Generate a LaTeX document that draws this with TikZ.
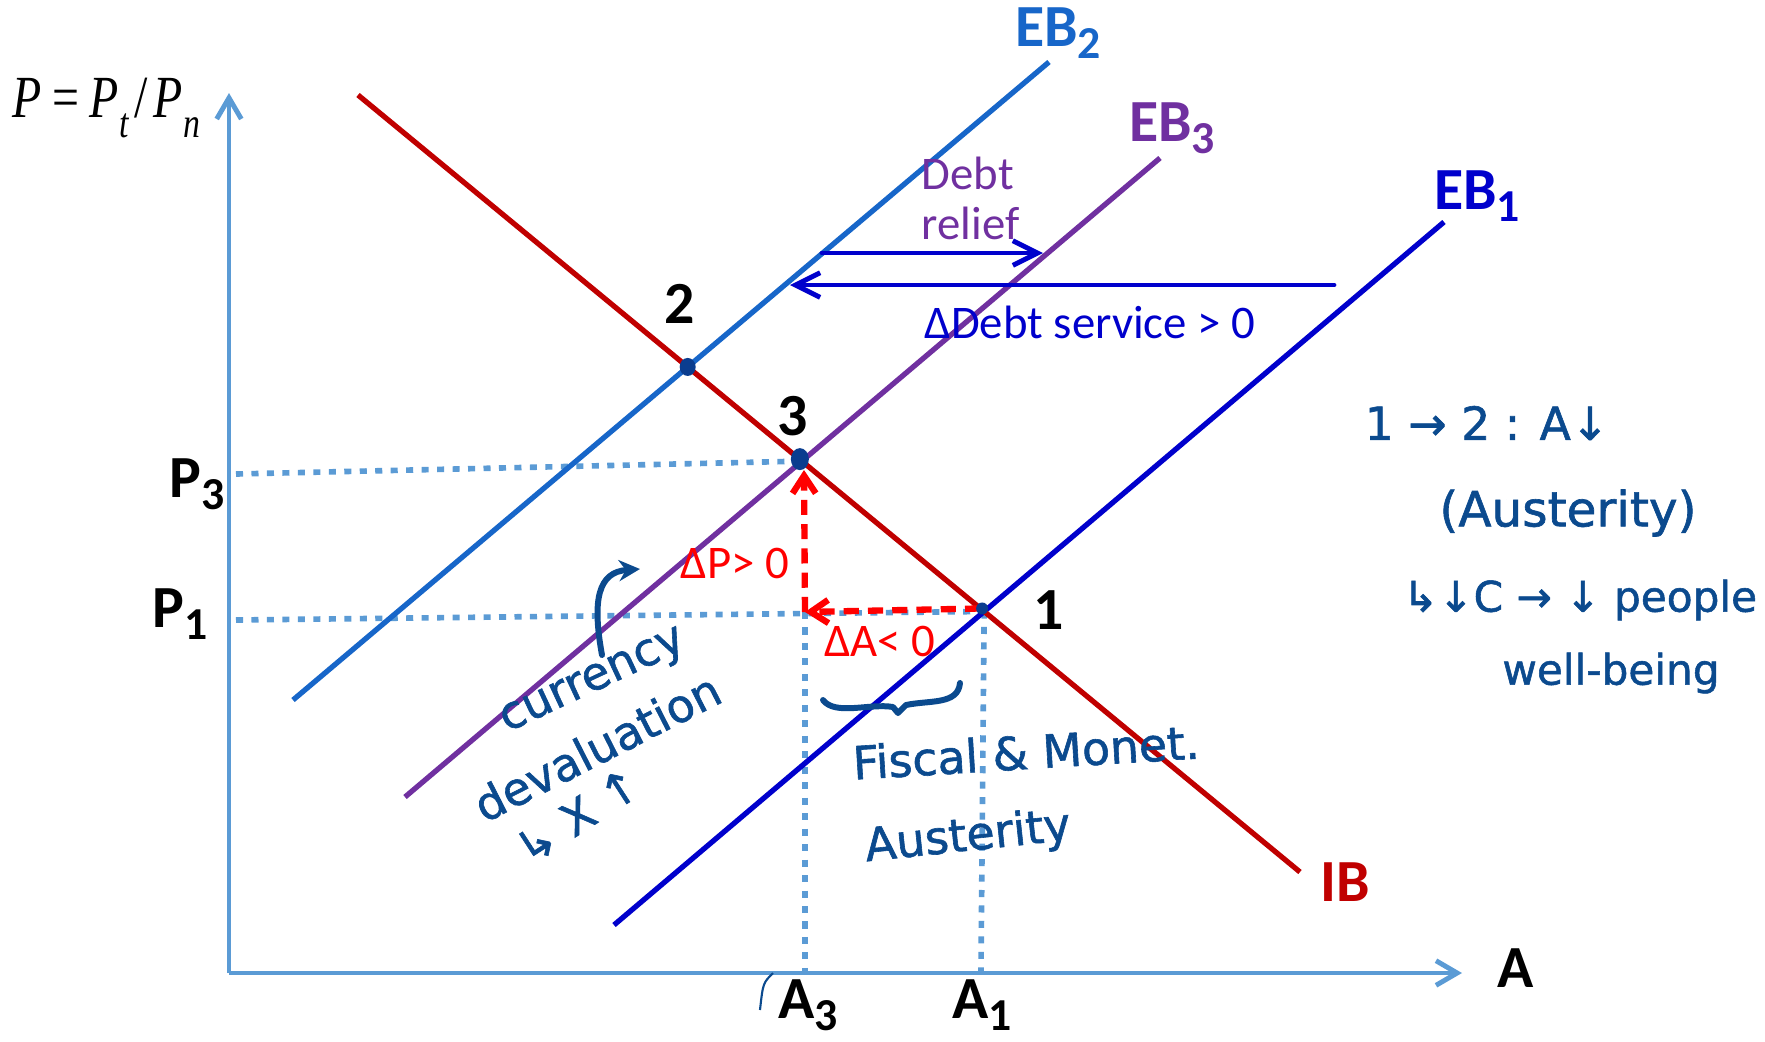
\documentclass[tikz,border=0pt]{standalone}
\usepackage{fontspec}
\usepackage{graphicx}
\setmainfont{Liberation Serif}
\setsansfont{Carlito}
\newfontfamily\hwfont[FakeBold=1.3]{DejaVu Sans}
\usetikzlibrary{arrows.meta,calc}
\definecolor{axisblue}{HTML}{5B9BD5}
\definecolor{ebtwo}{HTML}{1766C9}
\definecolor{ebthree}{HTML}{7030A0}
\definecolor{ebone}{HTML}{0000CC}
\definecolor{ibred}{HTML}{C00000}
\definecolor{hw}{HTML}{0B4A8E}
\definecolor{dotnavy}{HTML}{0A3D8F}
\newcommand\lsub[1]{\raisebox{-0.4ex}{\fontsize{13}{13}\selectfont #1}}
\newcommand\msub[1]{\raisebox{-0.75ex}{\fontsize{12}{12}\selectfont\textit{#1}}}
\begin{document}
\begin{tikzpicture}[x=0.01cm,y=-0.01cm,
  axisline/.style={draw=axisblue, line width=1.2pt, -{Straight Barb[length=6pt,width=7pt,line width=1.4pt]}},
  curveline/.style={line width=1.5pt},
  guide/.style={draw=axisblue, line width=1.6pt, dash pattern=on 2pt off 2.4pt},
  shiftarrow/.style={draw=ebone, line width=1.4pt, line cap=round, -{Straight Barb[length=7pt,width=7pt,line width=1.4pt]}},
  redarrow/.style={draw=red, line width=1.8pt, dash pattern=on 4.3pt off 2.6pt, -{Straight Barb[length=5pt,width=6.6pt,line width=1.8pt]}},
  biglabel/.style={font=\sffamily\bfseries\fontsize{17}{17}\selectfont, inner sep=0pt},
  smalllabel/.style={font=\sffamily\fontsize{13.3}{14.2}\selectfont, inner sep=0pt},
  hand/.style={font=\hwfont\fontsize{13}{13}\selectfont, text=hw, inner sep=0pt},
  handline/.style={draw=hw, line width=1.7pt, line cap=round, line join=round},
  eqdot/.style={fill=dotnavy, draw=none}
]
\useasboundingbox (0,0) rectangle (1765,1041);

% axes
\coordinate (O) at (229,973);
\coordinate (Ytop) at (229,93);
\coordinate (Xend) at (1462,973);
\draw[axisline] (O) -- (Ytop);
\draw[axisline] (O) -- (Xend);

% curve end points
\coordinate (IBa) at (358,95);   \coordinate (IBb) at (1300,872);
\coordinate (EB2a) at (293,700); \coordinate (EB2b) at (1049,62);
\coordinate (EB3a) at (405,797); \coordinate (EB3b) at (1160,158);
\coordinate (EB1a) at (614,925); \coordinate (EB1b) at (1444,222);

\coordinate (p2) at (intersection of IBa--IBb and EB2a--EB2b);
\coordinate (p3) at (intersection of IBa--IBb and EB3a--EB3b);
\coordinate (p1) at (intersection of IBa--IBb and EB1a--EB1b);

% guide lines
\coordinate (P3s) at (236,474);
\coordinate (P1s) at (236,620);
\coordinate (C) at (805,612);
\coordinate (A3b) at (805,971);
\coordinate (A1b) at (981,971);
\draw[guide] (P3s) -- (p3);
\draw[guide] (P1s) -- (p1);
\draw[guide] (C) -- (A3b);
\draw[guide] (p1) -- (A1b);

% curves
\draw[curveline, draw=ebtwo] (EB2a) -- (EB2b);
\draw[curveline, draw=ebthree] (EB3a) -- (EB3b);
\draw[curveline, draw=ebone] (EB1a) -- (EB1b);
\draw[curveline, draw=ibred] (IBa) -- (IBb);

% shift arrows
\coordinate (DRs) at (822,253); \coordinate (DRe) at (1043,253);
\coordinate (DSs) at (1334,285); \coordinate (DSe) at (790,285);
\draw[shiftarrow] (DRs) -- (DRe);
\draw[shiftarrow] (DSs) -- (DSe);

% red dashed adjustment
\coordinate (Vtop) at (804,470);
\draw[redarrow] ($(p1)+(-4,-3)$) -- (C);
\draw[redarrow] (C) -- (Vtop);

% equilibrium dots
\fill[eqdot] (p2) ellipse (8 and 9);
\fill[eqdot] ($(p3)+(-2,-2)$) ellipse (9 and 11);
\fill[eqdot] ($(p1)+(-2,-3)$) ellipse (6 and 6);

% labels
\node[biglabel, text=ebtwo] (lEB2) at (1058,33) {EB\lsub{2}};
\node[biglabel, text=ebthree] (lEB3) at (1172,128) {EB\lsub{3}};
\node[biglabel, text=ebone] (lEB1) at (1477,196) {EB\lsub{1}};
\node[biglabel, text=ibred] (lIB) at (1345,882) {IB};
\node[biglabel] (lA) at (1516,968) {A};
\node[biglabel] (lA3) at (808,1005) {A\lsub{3}};
\node[biglabel] (lA1) at (982,1005) {A\lsub{1}};
\node[biglabel] (lP3) at (197,484) {P\lsub{3}};
\node[biglabel] (lP1) at (180,614) {P\lsub{1}};
\node[biglabel] (l2) at (680,304) {2};
\node[biglabel] (l3) at (793,416) {3};
\node[biglabel] (l1) at (1049,610) {1};
\node[inner sep=0pt, anchor=west, font=\rmfamily\fontsize{17}{17}\selectfont] (lP) at (12,108)
  {\scalebox{0.8}[1]{\textit{P}\kern0.22em=\kern0.22em\textit{P}\msub{t}\kern0.12em/\kern0.12em\textit{P}\msub{n}}};

\node[smalllabel, text=ebthree, align=left, anchor=west] (lDR) at (921,198) {Debt\\relief};
\node[smalllabel, text=ebone] (lDS) at (1090,322) {ΔDebt service > 0};
\node[smalllabel, text=red] (lDP) at (735,563) {ΔP> 0};
\node[smalllabel, text=red] (lDA) at (880,641) {ΔA< 0};

% handwriting, right
\node[hand] (h1) at (1487,423) {1 → 2 : A↓};
\node[hand, font=\hwfont\fontsize{13.8}{13.8}\selectfont] (h2) at (1568,513) {(Austerity)};
\node[hand, font=\hwfont\fontsize{12}{12}\selectfont] (h3) at (1580,600) {↳↓C → ↓ people};
\node[hand, font=\hwfont\fontsize{12}{12}\selectfont] (h4) at (1611,673) {well-being};

% handwriting, left (rotated)
\node[hand, rotate=25] (h5) at (594,683) {currency};
\node[hand, rotate=27] (h6) at (597,747) {devaluation};
\node[hand, rotate=33] (h7) at (578,816) {↳ X ↑};
\coordinate (ha1) at (602,655);
\coordinate (ha2) at (640,569);
\draw[handline, -{Stealth[length=6pt,width=6pt]}] (ha1) .. controls (592,600) and (598,572) .. (ha2);

% handwriting, middle
\coordinate (br1) at (823,700);
\coordinate (br2) at (960,683);
\draw[handline] (br1) .. controls (835,716) and (870,703) .. (893,707)
  -- (898,713) -- (906,705) .. controls (930,700) and (958,705) .. (br2);
\node[hand, rotate=3.5] (h8) at (1026,752) {Fiscal \& Monet.};
\node[hand, rotate=6] (h9) at (968,838) {Austerity};
\coordinate (tk1) at (773,973);
\coordinate (tk2) at (760,1010);
\draw[draw=hw, line width=0.6pt] (tk1) .. controls (763,983) .. (tk2);
\end{tikzpicture}
\end{document}
